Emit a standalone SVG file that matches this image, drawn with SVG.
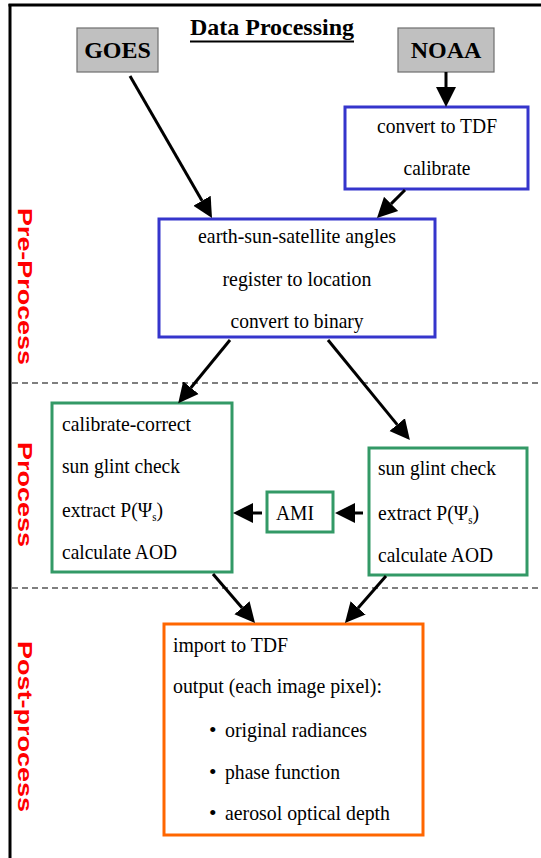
<svg xmlns="http://www.w3.org/2000/svg" width="541" height="858" viewBox="0 0 541 858">
<style>
.t{font-family:'Liberation Serif',Tinos,'Times New Roman',Times,'DejaVu Serif',serif;font-size:21.5px;fill:#000}
.tc{text-anchor:middle}
.b{font-weight:bold;font-size:24px}
.side{font-family:'Liberation Sans',Arial,sans-serif;font-weight:bold;font-size:20px;fill:#ff0000}
.src{fill:#c0c0c0;stroke:#6e6e6e;stroke-width:1.2}
.blue{fill:#fff;stroke:#3535cc;stroke-width:3}
.green{fill:#fff;stroke:#339966;stroke-width:3}
.orange{fill:#fff;stroke:#ff6600;stroke-width:3}
.dash{stroke:#555;stroke-width:1.5;stroke-dasharray:6,4;fill:none}
.arr{stroke:#000;stroke-width:3;fill:none;marker-end:url(#ah)}
</style>
<defs>
<marker id="ah" markerUnits="userSpaceOnUse" markerWidth="22" markerHeight="22" viewBox="0 -11 22 22" refX="0" refY="0" orient="auto">
<path d="M0,-10 L20,0 L0,10 z" fill="#000"/>
</marker>
</defs>
<rect width="541" height="858" fill="#fff"/>
<g id="frame">
<line x1="10" y1="4" x2="10" y2="858" stroke="#000" stroke-width="3"/>
<line x1="8.5" y1="5" x2="541" y2="5" stroke="#000" stroke-width="3"/>
<line class="dash" x1="12" y1="383" x2="541" y2="383"/>
<line class="dash" x1="12" y1="588" x2="541" y2="588"/>
</g>
<g id="title">
<text class="t b tc" x="272" y="35" textLength="164" lengthAdjust="spacingAndGlyphs">Data Processing</text>
<line x1="190" y1="41.5" x2="354" y2="41.5" stroke="#000" stroke-width="2"/>
</g>
<g id="labels">
<text class="side" transform="translate(18,208) rotate(90)" textLength="157" lengthAdjust="spacingAndGlyphs">Pre-Process</text>
<text class="side" transform="translate(18,442) rotate(90)" textLength="105" lengthAdjust="spacingAndGlyphs">Process</text>
<text class="side" transform="translate(18,641) rotate(90)" textLength="171" lengthAdjust="spacingAndGlyphs">Post-process</text>
</g>
<g id="goes">
<rect class="src" x="77" y="28" width="81" height="44"/>
<text class="t b tc" x="117.5" y="58">GOES</text>
</g>
<g id="noaa">
<rect class="src" x="398" y="28" width="96" height="44"/>
<text class="t b tc" x="446" y="58">NOAA</text>
</g>
<g id="convert">
<rect class="blue" x="345" y="107" width="183" height="82"/>
<text class="t tc" x="437" y="133" textLength="120" lengthAdjust="spacingAndGlyphs">convert to TDF</text>
<text class="t tc" x="437" y="175" textLength="67" lengthAdjust="spacingAndGlyphs">calibrate</text>
</g>
<g id="earth">
<rect class="blue" x="159" y="219" width="276" height="118"/>
<text class="t tc" x="297" y="243" textLength="198" lengthAdjust="spacingAndGlyphs">earth-sun-satellite angles</text>
<text class="t tc" x="297" y="286" textLength="149" lengthAdjust="spacingAndGlyphs">register to location</text>
<text class="t tc" x="297" y="328" textLength="133" lengthAdjust="spacingAndGlyphs">convert to binary</text>
</g>
<g id="process-left">
<rect class="green" x="52" y="403" width="180" height="169"/>
<text class="t" x="62" y="431" textLength="129" lengthAdjust="spacingAndGlyphs">calibrate-correct</text>
<text class="t" x="62" y="473" textLength="118" lengthAdjust="spacingAndGlyphs">sun glint check</text>
<text class="t" x="62" y="517" textLength="101" lengthAdjust="spacingAndGlyphs">extract P(Ψ<tspan font-size="12" dy="4">s</tspan><tspan dy="-4">)</tspan></text>
<text class="t" x="62" y="559" textLength="115" lengthAdjust="spacingAndGlyphs">calculate AOD</text>
</g>
<g id="ami">
<rect class="green" x="267" y="492" width="66" height="40"/>
<text class="t" x="276" y="520" textLength="38" lengthAdjust="spacingAndGlyphs">AMI</text>
</g>
<g id="process-right">
<rect class="green" x="369" y="448" width="158" height="127"/>
<text class="t" x="378" y="475" textLength="118" lengthAdjust="spacingAndGlyphs">sun glint check</text>
<text class="t" x="378" y="520" textLength="101" lengthAdjust="spacingAndGlyphs">extract P(Ψ<tspan font-size="12" dy="4">s</tspan><tspan dy="-4">)</tspan></text>
<text class="t" x="378" y="562" textLength="115" lengthAdjust="spacingAndGlyphs">calculate AOD</text>
</g>
<g id="post">
<rect class="orange" x="164" y="624" width="259" height="211"/>
<text class="t" x="173" y="652" textLength="115" lengthAdjust="spacingAndGlyphs">import to TDF</text>
<text class="t" x="173" y="693" textLength="209" lengthAdjust="spacingAndGlyphs">output (each image pixel):</text>
<text class="t" x="209" y="737">•</text>
<text class="t" x="225" y="737" textLength="142" lengthAdjust="spacingAndGlyphs">original radiances</text>
<text class="t" x="209" y="779">•</text>
<text class="t" x="225" y="779" textLength="115" lengthAdjust="spacingAndGlyphs">phase function</text>
<text class="t" x="209" y="820">•</text>
<text class="t" x="225" y="820" textLength="165" lengthAdjust="spacingAndGlyphs">aerosol optical depth</text>
</g>
<g id="connectors">
<line class="arr" x1="130" y1="76" x2="202" y2="200.7"/>
<line class="arr" x1="446" y1="72" x2="446" y2="87"/>
<line class="arr" x1="405" y1="190" x2="391.1" y2="203.9"/>
<line class="arr" x1="230" y1="340" x2="190.9" y2="387.7"/>
<line class="arr" x1="328" y1="340" x2="397.2" y2="424.6"/>
<line class="arr" x1="363" y1="513" x2="355" y2="513"/>
<line class="arr" x1="262" y1="513" x2="253" y2="513"/>
<line class="arr" x1="213" y1="574" x2="242" y2="607.8"/>
<line class="arr" x1="386" y1="576" x2="358.1" y2="607.9"/>
</g>
</svg>
